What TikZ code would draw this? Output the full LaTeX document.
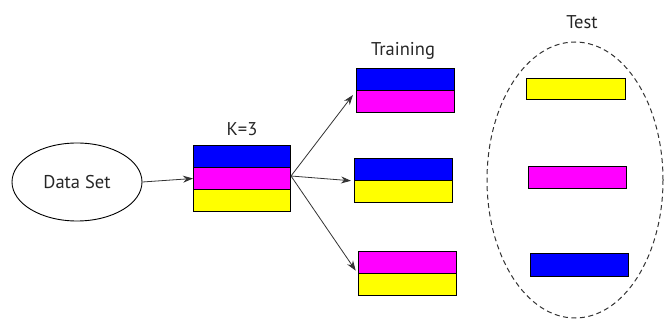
\documentclass[tikz,border=0pt]{standalone}
\usepackage{fontspec}
\setmainfont{PT Sans}
\usetikzlibrary{shapes.geometric,arrows.meta}
\definecolor{cblue}{RGB}{0,0,255}
\definecolor{cmag}{RGB}{255,0,255}
\definecolor{cyel}{RGB}{255,255,0}
\begin{document}
\begin{tikzpicture}[x=1pt,y=-1pt,
  band/.style={draw=black,line width=1pt,rectangle,inner sep=0pt,anchor=north west},
  lbl/.style={font=\fontsize{18.5}{20}\selectfont,text=black!85},
  conn/.style={draw=black!80,line width=0.8pt,-{Stealth[length=10pt,width=7pt]}}]
\useasboundingbox (0,0) rectangle (664,320);
% Data set
\node[ellipse,draw=black,line width=0.9pt,minimum width=130pt,minimum height=78pt,lbl] (ds) at (77,182) {Data Set};
% K=3 box
\node[band,fill=cblue,minimum width=97pt,minimum height=22pt] (k1) at (193,145) {};
\node[band,fill=cmag,minimum width=97pt,minimum height=22pt] (k2) at (193,167) {};
\node[band,fill=cyel,minimum width=97pt,minimum height=22pt] (k3) at (193,189) {};
\node[lbl] (klbl) at (242,129) {K=3};
% Training boxes
\node[band,fill=cblue,minimum width=98pt,minimum height=22pt] (t1a) at (356,68) {};
\node[band,fill=cmag,minimum width=98pt,minimum height=22pt] (t1b) at (356,90) {};
\node[band,fill=cblue,minimum width=98pt,minimum height=22pt] (t2a) at (354,158) {};
\node[band,fill=cyel,minimum width=98pt,minimum height=22pt] (t2b) at (354,180) {};
\node[band,fill=cmag,minimum width=98pt,minimum height=22pt] (t3a) at (358,251) {};
\node[band,fill=cyel,minimum width=98pt,minimum height=22pt] (t3b) at (358,273) {};
\node[lbl] (tlbl) at (403,51) {Training};
% Test
\node[ellipse,draw=black!80,dashed,dash pattern=on 5pt off 3.5pt,line width=1pt,minimum width=176pt,minimum height=276pt] (test) at (575,180) {};
\node[lbl] (testlbl) at (582,22) {Test};
\node[band,fill=cyel,minimum width=99pt,minimum height=21pt] (e1) at (526,78) {};
\node[band,fill=cmag,minimum width=98pt,minimum height=22pt] (e2) at (528,166) {};
\node[band,fill=cblue,minimum width=98pt,minimum height=23pt] (e3) at (530,253) {};
% connectors
\coordinate (kout) at (291,176);
\draw[conn] (ds.east) -- (k2.west);
\draw[conn,shorten >=5pt] (kout) -- (t1a.south west);
\draw[conn,shorten >=3pt] (kout) -- (t2a.south west);
\draw[conn,shorten >=4pt] (kout) -- (t3a.south west);
\end{tikzpicture}
\end{document}
